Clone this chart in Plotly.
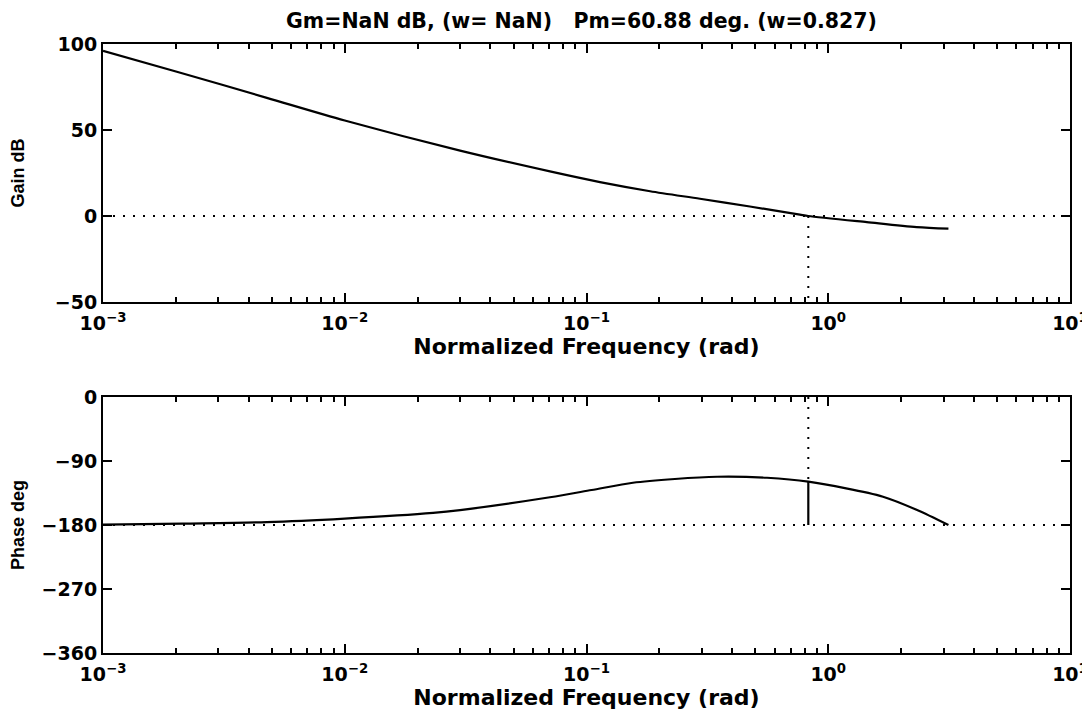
import plotly.graph_objects as go

# ---- data ----
w_gain = [0.001, 0.00202, 0.00476, 0.01, 0.030, 0.0706, 0.1137, 0.1833, 0.2947, 0.474, 0.763, 0.827, 1.443, 2.32, 3.1416]
gain_db = [96, 83.9, 68.7, 55.5, 38, 25.9, 19.7, 14.4, 10, 5.5, 0.8, 0, -3.6, -6.5, -7.4]

w_phase = [0.001, 0.00214, 0.00476, 0.01, 0.0232, 0.030, 0.0706, 0.105, 0.1556, 0.232, 0.3467, 0.558, 0.827, 1.685, 2.33, 3.1416]
phase_deg = [-179.5, -178, -176, -171, -163, -159, -141, -130.8, -120.6, -115.3, -112.2, -113.6, -119.12, -140.2, -158.9, -180]

w_range = [0.001, 10]
wc = 0.827
pm_phase = -119.12
gain_ticks = [100, 50, 0, -50]
phase_ticks = [0, -90, -180, -270, -360]
x_ticks = [0.001, 0.01, 0.1, 1, 10]
x_ticklabels = ["10<sup>\u22123</sup>", "10<sup>\u22122</sup>", "10<sup>\u22121</sup>", "10<sup>0</sup>", "10<sup>1</sup>"]
minor_x = [m * 10 ** e for e in range(-3, 1) for m in range(2, 10)]
title_text = "Gm=NaN dB, (w= NaN)   Pm=60.88 deg. (w=0.827)"

FONT = "DejaVu Sans"
BLACK = "#000000"
DOT = "2px,8px"

fig = go.Figure()

# top panel
fig.add_trace(go.Scatter(x=w_range, y=[0, 0], mode="lines", line=dict(color=BLACK, width=2, dash=DOT),
                         xaxis="x", yaxis="y", hoverinfo="skip"))
fig.add_trace(go.Scatter(x=[wc, wc], y=[0, -50], mode="lines", line=dict(color=BLACK, width=2, dash=DOT),
                         xaxis="x", yaxis="y", hoverinfo="skip"))
fig.add_trace(go.Scatter(x=w_gain, y=gain_db, mode="lines", line=dict(color=BLACK, width=2.2, shape="spline", smoothing=0.8),
                         xaxis="x", yaxis="y"))

# bottom panel
fig.add_trace(go.Scatter(x=w_range, y=[-180, -180], mode="lines", line=dict(color=BLACK, width=2, dash=DOT),
                         xaxis="x2", yaxis="y2", hoverinfo="skip"))
fig.add_trace(go.Scatter(x=[wc, wc], y=[0, pm_phase], mode="lines", line=dict(color=BLACK, width=2, dash=DOT),
                         xaxis="x2", yaxis="y2", hoverinfo="skip"))
fig.add_trace(go.Scatter(x=[wc, wc], y=[pm_phase, -180], mode="lines", line=dict(color=BLACK, width=2.2),
                         xaxis="x2", yaxis="y2", hoverinfo="skip"))
fig.add_trace(go.Scatter(x=w_phase, y=phase_deg, mode="lines", line=dict(color=BLACK, width=2.2, shape="spline", smoothing=0.8),
                         xaxis="x2", yaxis="y2"))

tickfont = dict(family=FONT, size=19, color=BLACK, weight="bold")
labfont = dict(family=FONT, size=22, color=BLACK, weight="bold")

def xaxis(anchor, standoff):
    return dict(type="log", range=[-3, 1], anchor=anchor, showgrid=False, zeroline=False,
                showline=True, linecolor=BLACK, linewidth=2, mirror="ticks", automargin=False,
                ticks="inside", ticklen=9, tickwidth=1.5, tickcolor=BLACK, ticklabelstandoff=3,
                tickmode="array", tickvals=x_ticks, ticktext=x_ticklabels, tickfont=tickfont,
                minor=dict(ticks="inside", ticklen=5, tickwidth=1.5, tickcolor=BLACK,
                           tickmode="array", tickvals=minor_x, showgrid=False),
                title=dict(text="Normalized Frequency (rad)", font=labfont, standoff=standoff))

def yaxis(anchor, rng, tv, dom, title, standoff):
    return dict(range=rng, domain=dom, anchor=anchor, showgrid=False, zeroline=False,
                showline=True, linecolor=BLACK, linewidth=2, mirror="ticks", automargin=False,
                ticks="inside", ticklen=9, tickwidth=1.5, tickcolor=BLACK,
                tickmode="array", tickvals=tv, ticktext=[str(v).replace("-", "\u2212") for v in tv],
                tickfont=tickfont,
                title=dict(text=title, font=dict(family="Liberation Sans", size=18, color=BLACK, weight="bold"),
                           standoff=standoff))

fig.update_layout(
    width=1082, height=703,
    margin=dict(l=95, r=20, t=36, b=58),
    paper_bgcolor="white", plot_bgcolor="white",
    showlegend=False,
    xaxis=xaxis("y", 5),
    yaxis=yaxis("x", [-50, 100], gain_ticks, [0.5764, 1.0], "Gain dB", 29),
    xaxis2=xaxis("y2", 0),
    yaxis2=yaxis("x2", [-360, 0], phase_ticks, [0.0, 0.4204], "Phase deg", 13),
    title=dict(text=title_text, x=0.530, xanchor="center", y=0.982, yanchor="middle",
               font=dict(family=FONT, size=20.5, color=BLACK, weight="bold")),
)

fig.write_html("out.html")
